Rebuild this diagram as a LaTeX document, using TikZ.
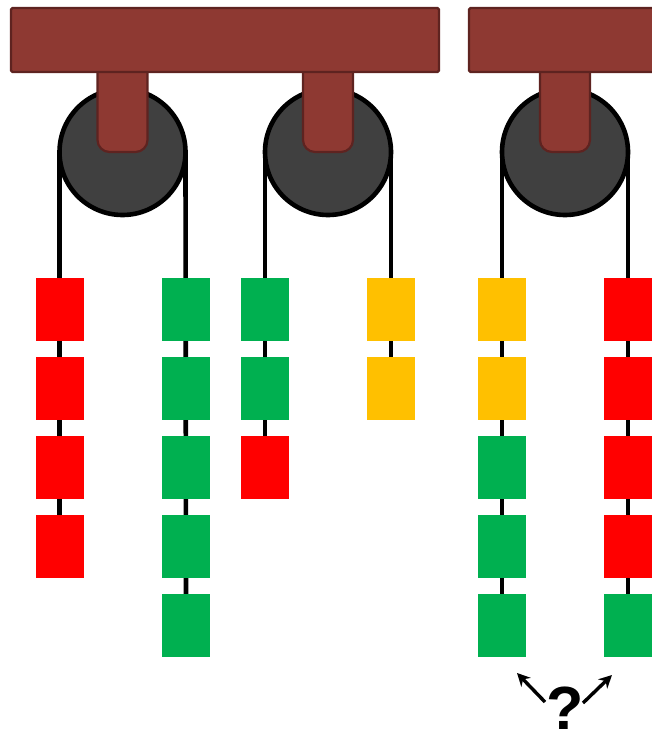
\documentclass[tikz,border=0pt]{standalone}
\usepackage{fontspec}
\setmainfont{Liberation Sans}
\usetikzlibrary{arrows.meta}
\pgfdeclarelayer{background}
\pgfsetlayers{background,main}
\definecolor{beamfill}{HTML}{8E3932}
\definecolor{beamline}{HTML}{5E2320}
\definecolor{wheel}{HTML}{404040}
\definecolor{wred}{HTML}{FF0000}
\definecolor{wgreen}{HTML}{00B050}
\definecolor{wyellow}{HTML}{FFC000}
\tikzset{
  beam/.style={fill=beamfill, draw=beamline, line width=2.2pt, rounded corners=1.5pt},
  hanger/.style={fill=beamfill, draw=beamline, line width=2.2pt, rounded corners=12pt},
  pulley/.style={circle, fill=wheel, draw=black, line width=4.6pt, minimum size=126pt, inner sep=0pt, outer sep=0pt},
  rope/.style={draw=black, line width=4.6pt},
  weight/.style={minimum width=48pt, minimum height=63pt, inner sep=0pt, outer sep=0pt},
  hint/.style={line width=3.4pt, -{Stealth[length=13pt,width=13pt]}},
}
\begin{document}
\begin{tikzpicture}[x=1pt,y=-1pt]
\useasboundingbox (0,0) rectangle (652,733);

% weights: column / x / colours from top to bottom
\foreach \c/\x/\cols in {a/59.5/{wred,wred,wred,wred},
                         b/186/{wgreen,wgreen,wgreen,wgreen,wgreen},
                         c/265/{wgreen,wgreen,wred},
                         d/391/{wyellow,wyellow},
                         e/502/{wyellow,wyellow,wgreen,wgreen,wgreen},
                         f/628/{wred,wred,wred,wred,wgreen}}{
  \foreach \col [count=\i] in \cols {
    \node[weight, fill=\col] (\c\i) at (\x, 309.5+79*\i-79) {};
  }
}

% pulleys
\node[pulley] (p1) at (122.5,152) {};
\node[pulley] (p2) at (328,152) {};
\node[pulley] (p3) at (565,152) {};

% ropes, behind pulleys and weights
\begin{pgfonlayer}{background}
\path[rope] (p1.west) -- (a4.center);
\path[rope] (p1.east) -- (b5.center);
\path[rope] (p2.west) -- (c3.center);
\path[rope] (p2.east) -- (d2.center);
\path[rope] (p3.west) -- (e5.center);
\path[rope] (p3.east) -- (f5.center);
\end{pgfonlayer}

% hangers
\foreach \x in {122.5, 328, 565}{
  \draw[hanger] (\x-25,60) -- (\x-25,152) -- (\x+25,152) -- (\x+25,60);
}

% beams
\draw[beam] (11,8) rectangle (439,72);
\draw[beam] (469,8) rectangle (662,72);

% question mark with two arrows
\node[font=\bfseries\fontsize{61}{61}\selectfont, inner sep=0pt, anchor=south] (q) at (565,729.5) {?};
\coordinate (qa) at (545,702);
\coordinate (qb) at (583,703);
\coordinate (la) at (517,673);
\coordinate (lb) at (612,675);
\draw[hint] (qa) -- (la);
\draw[hint] (qb) -- (lb);
\end{tikzpicture}
\end{document}
